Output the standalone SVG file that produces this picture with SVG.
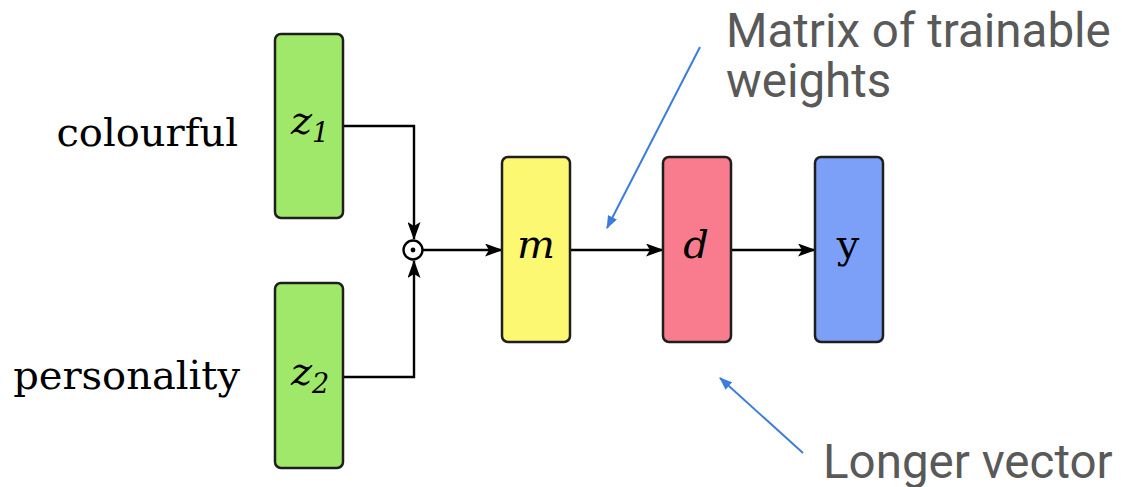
<svg xmlns="http://www.w3.org/2000/svg" width="1122" height="487" viewBox="0 0 1122 487">
  <style>
    .box { stroke: #1e1e1e; stroke-width: 2.5; }
    .wire { fill: none; stroke: #000; stroke-width: 2.4; }
    .note { fill: none; stroke: #3c7ddc; stroke-width: 2; }
    .label { font-family: "DejaVu Serif", serif; font-size: 40px; fill: #000; }
    .math { font-family: "DejaVu Serif", serif; font-style: italic; fill: #000; }
    .caption { font-family: Roboto, "Liberation Sans", sans-serif; font-size: 47.5px; fill: #595959; }
  </style>
  <defs>
    <marker id="arrow" viewBox="0 0 18 13" refX="17" refY="6.5" markerUnits="userSpaceOnUse" markerWidth="18" markerHeight="13" orient="auto">
      <path d="M0,0 L18,6.5 L0,13 L4,6.5 z" fill="#000"/>
    </marker>
    <marker id="blue-arrow" viewBox="0 0 13 10" refX="12" refY="5" markerUnits="userSpaceOnUse" markerWidth="13" markerHeight="10" orient="auto">
      <path d="M0,0 L13,5 L0,10 z" fill="#3c7ddc"/>
    </marker>
  </defs>

  <!-- input labels -->
  <text class="label" x="238" y="146" text-anchor="end">colourful</text>
  <text class="label" x="240" y="389" text-anchor="end">personality</text>

  <!-- connectors -->
  <g id="connectors">
    <path class="wire" d="M343,126 H414 V239" marker-end="url(#arrow)"/>
    <path class="wire" d="M343,377 H414 V261" marker-end="url(#arrow)"/>
    <path class="wire" d="M423,250 H502" marker-end="url(#arrow)"/>
    <path class="wire" d="M570,250 H663" marker-end="url(#arrow)"/>
    <path class="wire" d="M731,250 H815" marker-end="url(#arrow)"/>
    <path class="note" d="M700,47 L607,228" marker-end="url(#blue-arrow)"/>
    <path class="note" d="M803,453 L720,378" marker-end="url(#blue-arrow)"/>
  </g>

  <!-- nodes -->
  <g id="z1">
    <rect class="box" x="275" y="34" width="68" height="184" rx="6" fill="#a0e86a"/>
    <text class="math" x="291" y="134" font-size="40">z</text>
    <text class="math" x="312" y="142" font-size="27">1</text>
  </g>
  <g id="z2">
    <rect class="box" x="275" y="283" width="68" height="185" rx="6" fill="#a0e86a"/>
    <text class="math" x="291" y="385" font-size="40">z</text>
    <text class="math" x="312" y="393" font-size="27">2</text>
  </g>
  <g id="hadamard">
    <circle cx="413" cy="250" r="9.5" fill="#fff" stroke="#000" stroke-width="2.4"/>
    <circle cx="413" cy="250" r="2.4" fill="#000"/>
  </g>
  <g id="m">
    <rect class="box" x="502" y="157" width="68" height="185" rx="6" fill="#fdf872"/>
    <text class="math" x="536" y="258" font-size="40" text-anchor="middle">m</text>
  </g>
  <g id="d">
    <rect class="box" x="663" y="157" width="68" height="185" rx="6" fill="#f87c8d"/>
    <text class="math" x="696" y="258" font-size="40" text-anchor="middle">d</text>
  </g>
  <g id="y">
    <rect class="box" x="815" y="157" width="68" height="185" rx="6" fill="#7c9ff8"/>
    <text x="848" y="258" font-family="DejaVu Serif, serif" font-size="40" text-anchor="middle">y</text>
  </g>

  <!-- annotations -->
  <text class="caption" x="726" y="47">Matrix of trainable</text>
  <text class="caption" x="726" y="97">weights</text>
  <text class="caption" x="823" y="478">Longer vector</text>
</svg>
